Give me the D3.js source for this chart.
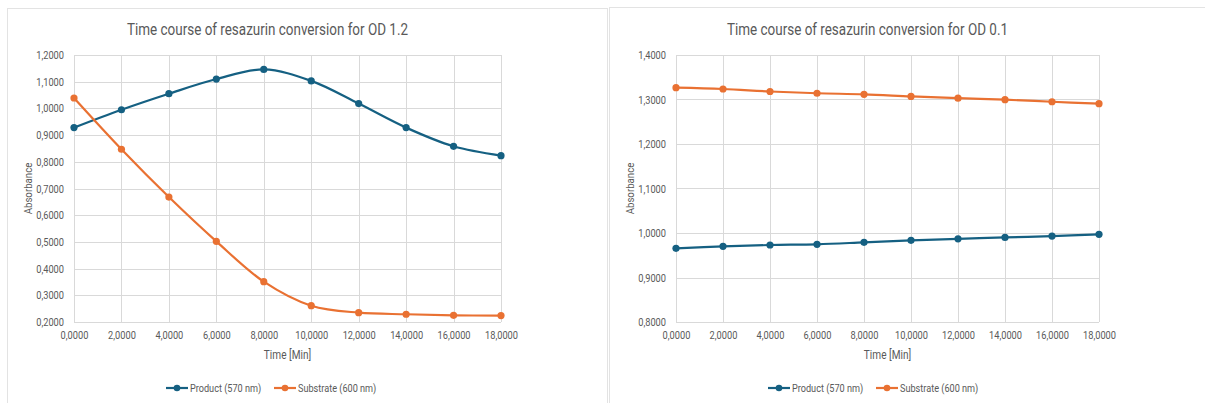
<!DOCTYPE html>
<html>
<head>
<meta charset="utf-8">
<script src="https://cdn.jsdelivr.net/npm/d3@7"></script>
<style>
  html, body { margin: 0; padding: 0; background: #fff; }
  svg { display: block; }
  text { font-family: Roboto, "Noto Sans", sans-serif; fill: #595959; }
</style>
</head>
<body>
<svg id="chart" width="1205" height="403"></svg>
<script>
const times = [0, 2, 4, 6, 8, 10, 12, 14, 16, 18];
const xTicks = [0, 2, 4, 6, 8, 10, 12, 14, 16, 18];

const titleA = "Time course of resazurin conversion for OD 1.2";
const productA = [0.928, 0.995, 1.055, 1.110, 1.146, 1.103, 1.018, 0.928, 0.858, 0.823];
const substrateA = [1.039, 0.847, 0.668, 0.502, 0.351, 0.261, 0.235, 0.229, 0.225, 0.224];
const yTicksA = [0.2, 0.3, 0.4, 0.5, 0.6, 0.7, 0.8, 0.9, 1.0, 1.1, 1.2];

const titleB = "Time course of resazurin conversion for OD 0.1";
const productB = [0.9655, 0.970, 0.973, 0.9746, 0.979, 0.9836, 0.987, 0.990, 0.993, 0.997];
const substrateB = [1.3266, 1.3236, 1.318, 1.314, 1.3116, 1.307, 1.303, 1.2996, 1.295, 1.2906];
const yTicksB = [0.8, 0.9, 1.0, 1.1, 1.2, 1.3, 1.4];

const seriesNames = ["Product (570 nm)", "Substrate (600 nm)"];
const colors = ["#156082", "#E97132"];

const svg = d3.select("#chart");
const fmt = v => d3.format(".4f")(v).replace(".", ",");
const SQUEEZE = 0.84;

function condense(sel, factor) {
  sel.each(function () {
    const w = this.getComputedTextLength();
    d3.select(this).attr("textLength", w * factor).attr("lengthAdjust", "spacingAndGlyphs");
  });
}

function drawPanel(cfg) {
  const g = svg.append("g");
  g.append("rect")
    .attr("x", cfg.px + 0.5).attr("y", cfg.py + 0.5)
    .attr("width", cfg.pw).attr("height", cfg.ph)
    .attr("fill", "#fff").attr("stroke", "#e3e3e3").attr("stroke-width", 1);

  const x = d3.scaleLinear().domain([0, 18]).range([cfg.left, cfg.right]);
  const y = d3.scaleLinear().domain(cfg.yDomain).range([cfg.bottom, cfg.top]);

  g.append("g").selectAll("line").data(cfg.yTicks).join("line")
    .attr("x1", cfg.left).attr("x2", cfg.right)
    .attr("y1", d => Math.round(y(d)) + 0.5).attr("y2", d => Math.round(y(d)) + 0.5)
    .attr("stroke", "#d9d9d9").attr("stroke-width", 1);
  g.append("g").selectAll("line").data(xTicks).join("line")
    .attr("y1", cfg.top).attr("y2", cfg.bottom)
    .attr("x1", d => Math.round(x(d)) + 0.5).attr("x2", d => Math.round(x(d)) + 0.5)
    .attr("stroke", "#d9d9d9").attr("stroke-width", 1);

  const yAxis = d3.axisLeft(y).tickValues(cfg.yTicks).tickFormat(fmt).tickSize(0).tickPadding(10);
  const ya = g.append("g").attr("transform", `translate(${cfg.left},0)`).call(yAxis);
  ya.select(".domain").remove();
  ya.selectAll("text").attr("font-size", 11).attr("fill", "#595959")
    .style("font-family", "Roboto, sans-serif");
  condense(ya.selectAll("text"), SQUEEZE);

  const xAxis = d3.axisBottom(x).tickValues(xTicks).tickFormat(fmt).tickSize(0).tickPadding(9);
  const xa = g.append("g").attr("transform", `translate(0,${cfg.bottom})`).call(xAxis);
  xa.select(".domain").remove();
  xa.selectAll("text").attr("font-size", 11).attr("fill", "#595959")
    .style("font-family", "Roboto, sans-serif");
  condense(xa.selectAll("text"), SQUEEZE);

  const t = g.append("text").attr("x", (cfg.left + cfg.right) / 2 - 20).attr("y", 35)
    .attr("text-anchor", "middle").attr("font-size", 16).text(cfg.title);
  t.attr("textLength", 281).attr("lengthAdjust", "spacingAndGlyphs");

  const xt = g.append("text").attr("x", (cfg.left + cfg.right) / 2).attr("y", 359)
    .attr("text-anchor", "middle").attr("font-size", 12).text("Time [Min]");
  condense(xt, SQUEEZE);
  const yt = g.append("text")
    .attr("transform", `translate(${cfg.left - 42},${(cfg.top + cfg.bottom) / 2}) rotate(-90)`)
    .attr("text-anchor", "middle").attr("font-size", 11.5).text("Absorbance");
  condense(yt, SQUEEZE);

  const line = d3.line().x((d, i) => x(times[i])).y(d => y(d)).curve(d3.curveCatmullRom.alpha(0.5));
  cfg.series.forEach((vals, si) => {
    g.append("path").datum(vals).attr("d", line)
      .attr("fill", "none").attr("stroke", colors[si]).attr("stroke-width", 2.2);
    g.append("g").selectAll("circle").data(vals).join("circle")
      .attr("cx", (d, i) => x(times[i])).attr("cy", d => y(d)).attr("r", 3.6)
      .attr("fill", colors[si]);
  });

  const ly = 388;
  const lx = [cfg.left + 92, cfg.left + 200];
  seriesNames.forEach((name, si) => {
    const lg = g.append("g");
    lg.append("line").attr("x1", lx[si]).attr("x2", lx[si] + 22).attr("y1", ly).attr("y2", ly)
      .attr("stroke", colors[si]).attr("stroke-width", 2.2);
    lg.append("circle").attr("cx", lx[si] + 11).attr("cy", ly).attr("r", 3.3).attr("fill", colors[si]);
    const lt = lg.append("text").attr("x", lx[si] + 24).attr("y", ly + 4).attr("font-size", 11).text(name);
    condense(lt, 0.83);
  });
}

drawPanel({
  px: 7, py: 8, pw: 600, ph: 400,
  left: 74, right: 501, top: 55, bottom: 322,
  yDomain: [0.2, 1.2], yTicks: yTicksA, title: titleA,
  series: [productA, substrateA]
});
drawPanel({
  px: 609, py: 7, pw: 600, ph: 400,
  left: 676, right: 1099, top: 55, bottom: 322,
  yDomain: [0.8, 1.4], yTicks: yTicksB, title: titleB,
  series: [productB, substrateB]
});
</script>
</body>
</html>
